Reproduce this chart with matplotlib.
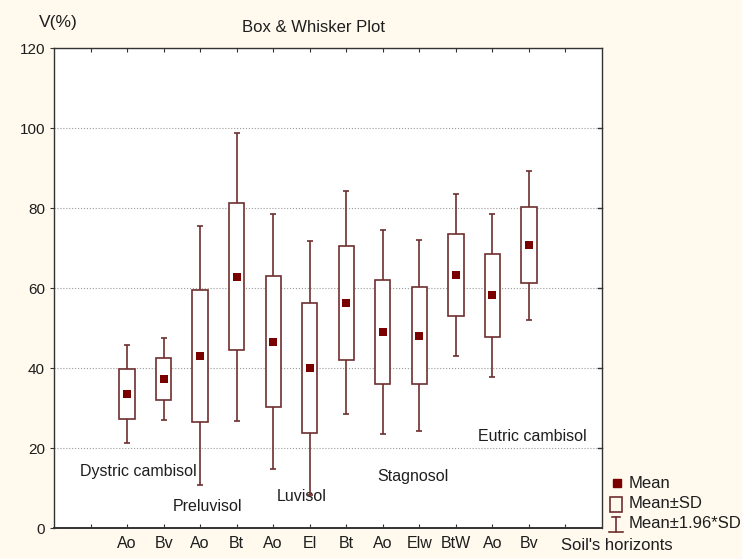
import numpy as np
import matplotlib.pyplot as plt
from matplotlib.patches import Rectangle
from matplotlib.lines import Line2D

plt.rcParams['font.family'] = ['Liberation Sans', 'DejaVu Sans']

horizons = ['Ao', 'Bv', 'Ao', 'Bt', 'Ao', 'El', 'Bt', 'Ao', 'Elw', 'BtW', 'Ao', 'Bv']
means = [33.5, 37.2, 43.1, 62.8, 46.6, 40.0, 56.3, 49.0, 48.1, 63.3, 58.2, 70.7]
sds = [6.2, 5.2, 16.5, 18.4, 16.3, 16.2, 14.2, 13.0, 12.2, 10.3, 10.4, 9.5]

soil_names = ['Dystric cambisol', 'Preluvisol', 'Luvisol', 'Stagnosol', 'Eutric cambisol']
soil_x = [0.72, 3.25, 6.1, 8.85, 11.6]
soil_y = [14.2, 5.3, 7.8, 13.0, 22.8]

W, H = 742, 559
LINE = '#6e2f2f'
MEAN_C = '#7a0000'
TXT = '#1e1e1e'
BG = '#fff9ee'

fig = plt.figure(figsize=(W / 100, H / 100), dpi=100, facecolor=BG)
ax = fig.add_axes([54 / W, 1 - 528 / H, (602 - 54) / W, (528 - 48) / H])
ax.set_facecolor('white')

pos = np.arange(2, 2 + len(horizons))
means_a = np.array(means)
sds_a = np.array(sds)

ax.errorbar(pos, means_a, yerr=1.96 * sds_a, fmt='none', ecolor=LINE,
            elinewidth=1.2, capsize=2.5, capthick=1.2, zorder=2)
ax.bar(pos, 2 * sds_a, bottom=means_a - sds_a, width=0.42, color='white',
       edgecolor=LINE, linewidth=1.2, zorder=3)
ax.scatter(pos, means_a, marker='s', s=28, color=MEAN_C, zorder=4, linewidths=0)

for name, x, y in zip(soil_names, soil_x, soil_y):
    ax.text(x, y, name, fontsize=11.5, color=TXT, va='center', ha='left', zorder=1)

ax.set_xlim(0, 15)
ax.set_ylim(0, 120)
ax.set_xticks(np.arange(1, 15))
ax.set_xticklabels([''] + horizons + [''])
ax.set_yticks(np.arange(0, 121, 20))
ax.yaxis.grid(True, linestyle=':', color='#9a9a9a', linewidth=0.8)
ax.set_axisbelow(True)

ax.tick_params(axis='x', direction='in', top=True, bottom=True, length=3,
               labelsize=11.5, labelcolor=TXT, pad=6, color='#333333')
ax.tick_params(axis='y', direction='out', right=False, length=3,
               labelsize=11, labelcolor=TXT, color='#333333')
for yv in range(20, 120, 20):
    ax.plot([15 - 0.12, 15], [yv, yv], color='#333333', lw=1, clip_on=False)
for s in ax.spines.values():
    s.set_color('#333333')
    s.set_linewidth(1.0)
ax.spines['bottom'].set_linewidth(1.4)


def fx(px):
    return px / W


def fy(py):
    return 1 - py / H


fig.text(fx(58), fy(22), 'V(%)', fontsize=12.5, color=TXT, ha='center', va='center')
fig.text(fx(314), fy(28), 'Box & Whisker Plot', fontsize=12, color=TXT, ha='center', va='center')

# legend drawn outside the axes
fig.patches.append(Rectangle((fx(613), fy(487)), fx(8), 8 / H, color=MEAN_C,
                             transform=fig.transFigure, figure=fig))
fig.text(fx(629), fy(483), 'Mean', fontsize=12, color=TXT, va='center')
fig.patches.append(Rectangle((fx(610), fy(512)), fx(12), 15 / H, facecolor='none',
                             edgecolor=LINE, lw=1.2, transform=fig.transFigure, figure=fig))
fig.text(fx(629), fy(503), 'Mean±SD', fontsize=12, color=TXT, va='center')
fig.lines.append(Line2D([fx(616), fx(616)], [fy(517), fy(532)], color=LINE, lw=1.2,
                        transform=fig.transFigure))
fig.lines.append(Line2D([fx(612), fx(620)], [fy(517), fy(517)], color=LINE, lw=1.2,
                        transform=fig.transFigure))
fig.lines.append(Line2D([fx(609), fx(623)], [fy(532), fy(532)], color=LINE, lw=1.2,
                        transform=fig.transFigure))
fig.text(fx(629), fy(523), 'Mean±1.96*SD', fontsize=12, color=TXT, va='center')
fig.text(fx(561), fy(546), "Soil's horizonts", fontsize=12, color=TXT, va='center')

fig.savefig('out.png', dpi=100, facecolor=BG)
